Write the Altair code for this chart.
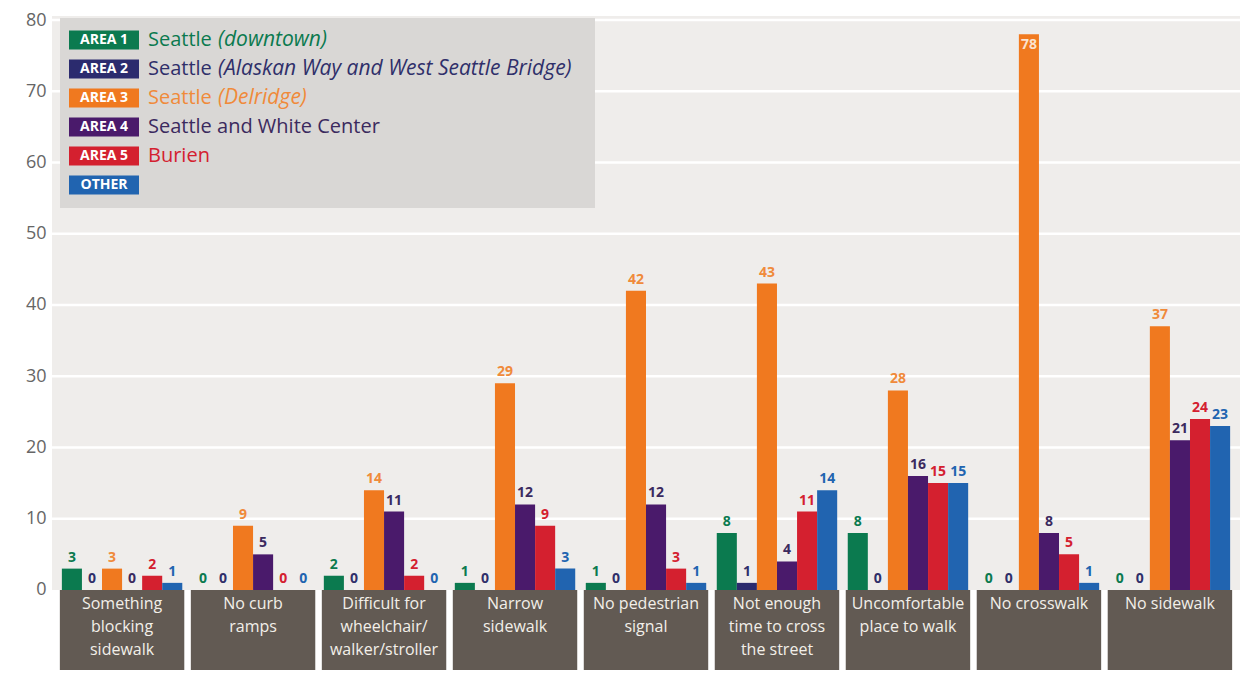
import altair as alt
import pandas as pd

categories = [
    "Something\nblocking\nsidewalk",
    "No curb\nramps",
    "Difficult for\nwheelchair/\nwalker/stroller",
    "Narrow\nsidewalk",
    "No pedestrian\nsignal",
    "Not enough\ntime to cross\nthe street",
    "Uncomfortable\nplace to walk",
    "No crosswalk",
    "No sidewalk",
]
series = ["AREA 1", "AREA 2", "AREA 3", "AREA 4", "AREA 5", "OTHER"]
area1 = [3, 0, 2, 1, 1, 8, 8, 0, 0]
area2 = [0, 0, 0, 0, 0, 1, 0, 0, 0]
area3 = [3, 9, 14, 29, 42, 43, 28, 78, 37]
area4 = [0, 5, 11, 12, 12, 4, 16, 8, 21]
area5 = [2, 0, 2, 9, 3, 11, 15, 5, 24]
other = [1, 0, 0, 3, 1, 14, 15, 1, 23]
legend_main = ["Seattle", "Seattle", "Seattle", "Seattle and White Center", "Burien", ""]
legend_italic = ["(downtown)", "(Alaskan Way and West Seattle Bridge)", "(Delridge)", "", "", ""]
y_ticks = [0, 10, 20, 30, 40, 50, 60, 70, 80]
grid_values = [10, 20, 30, 40, 50, 60, 70, 80]

colors = ["#0b7a4f", "#2b2b6e", "#f0791f", "#4a1a6b", "#d4202f", "#2164b0"]
text_colors = ["#0b7a4f", "#2f2f6a", "#f08a3a", "#3b2a5e", "#d4202f", "#2164b0"]

W, H = 1188, 650
YMIN, YMAX = -11.23, 80
LABEL_FONT = "Open Sans"
FONT = "Open Sans"

rows = []
for s, vals in zip(series, [area1, area2, area3, area4, area5, other]):
    for c, v in zip(categories, vals):
        rows.append({"cat": c, "series": s, "value": v})
df = pd.DataFrame(rows)

leg = pd.DataFrame({
    "i": list(range(6)),
    "series": series,
    "main": legend_main,
    "ital": legend_italic,
})

yscale = alt.Scale(domain=[YMIN, YMAX], nice=False, zero=False)
xscale = alt.Scale(paddingInner=0.05, paddingOuter=0.06)
xoff_scale = alt.Scale(paddingInner=0, paddingOuter=0.1)
cscale = alt.Scale(domain=series, range=colors)
tscale = alt.Scale(domain=series, range=text_colors)

X = alt.X("cat:N", sort=categories, scale=xscale, axis=None)
XO = alt.XOffset("series:N", sort=series, scale=xoff_scale)

bg = alt.Chart(pd.DataFrame({"a": [0]})).mark_rect(color="#efedeb").encode(
    x=alt.value(0), x2=alt.value(W),
    y=alt.Y("lo:Q", scale=yscale, axis=alt.Axis(
        values=y_ticks, title=None, domain=False, ticks=False, grid=False,
        labelFont=FONT, labelFontSize=18, labelColor="#666666", labelPadding=6)),
    y2=alt.value(-4),
).transform_calculate(lo="0")

grid = alt.Chart(pd.DataFrame({"g": grid_values})).mark_rule(color="white", strokeWidth=2.5).encode(
    x=alt.value(0), x2=alt.value(W),
    y=alt.Y("g:Q", scale=yscale),
)

boxes = alt.Chart(pd.DataFrame({"cat": categories})).mark_bar(color="#625a53").encode(
    x=X,
    y=alt.Y("top:Q", scale=yscale),
    y2="bot:Q",
).transform_calculate(top="0", bot=str(YMIN))

box_text = alt.Chart(pd.DataFrame({"cat": categories})).mark_text(
    color="#f2efe9", font=LABEL_FONT, fontSize=16, baseline="top", dy=6,
    lineBreak="\n", lineHeight=23, align="center",
).encode(
    x=X,
    y=alt.Y("top:Q", scale=yscale),
    text="cat:N",
).transform_calculate(top="0")

bars = alt.Chart(df).mark_bar().encode(
    x=X,
    xOffset=XO,
    y=alt.Y("value:Q", scale=yscale),
    y2=alt.datum(0),
    color=alt.Color("series:N", scale=cscale, legend=None),
)

vlabels = alt.Chart(df).transform_filter("datum.value < 70").mark_text(
    font=LABEL_FONT, fontSize=14, fontWeight="bold", baseline="bottom", dy=-4,
).encode(
    x=X,
    xOffset=XO,
    y=alt.Y("value:Q", scale=yscale),
    text="value:Q",
    color=alt.Color("series:N", scale=tscale, legend=None),
)

vlabels_in = alt.Chart(df).transform_filter("datum.value >= 70").mark_text(
    font=LABEL_FONT, fontSize=14, fontWeight="bold", baseline="top", dy=4, color="#fbe3cf",
).encode(
    x=X,
    xOffset=XO,
    y=alt.Y("value:Q", scale=yscale),
    text="value:Q",
)

# custom legend
leg_base = alt.Chart(leg).transform_calculate(
    yc="20 + datum.i * 29", y0="20 + datum.i * 29 - 9.5", y1="20 + datum.i * 29 + 9.5"
)
leg_box = alt.Chart(pd.DataFrame({"a": [0]})).mark_rect(color="#d9d7d5").encode(
    x=alt.value(8), x2=alt.value(543), y=alt.value(-2), y2=alt.value(188)
)
badges = leg_base.mark_rect().encode(
    x=alt.value(17), x2=alt.value(87),
    y=alt.Y("y0:Q", scale=None), y2="y1:Q",
    color=alt.Color("series:N", scale=cscale, legend=None),
)
badge_text = leg_base.mark_text(
    font=LABEL_FONT, fontSize=14, fontWeight="bold", color="white", align="center", baseline="middle",
).encode(
    x=alt.value(52), y=alt.Y("yc:Q", scale=None), text="series:N",
)
leg_main = leg_base.mark_text(
    font=FONT, fontSize=20, align="left", baseline="middle",
).encode(
    x=alt.value(96), y=alt.Y("yc:Q", scale=None), text="main:N",
    color=alt.Color("series:N", scale=tscale, legend=None),
)
leg_ital = leg_base.mark_text(
    font=FONT, fontSize=21, fontStyle="italic", align="left", baseline="middle",
).encode(
    x=alt.value(166), y=alt.Y("yc:Q", scale=None), text="ital:N",
    color=alt.Color("series:N", scale=tscale, legend=None),
)

chart = alt.layer(
    bg, grid, boxes, box_text, bars, vlabels, vlabels_in,
    leg_box, badges, badge_text, leg_main, leg_ital,
).resolve_scale(color="independent").properties(
    width=W, height=H,
    autosize=alt.AutoSizeParams(type="none"),
    padding={"left": 44, "top": 12, "right": 0, "bottom": 0},
).configure_view(stroke=None)

chart.save("out.html", embed_options={"renderer": "svg", "actions": False})
